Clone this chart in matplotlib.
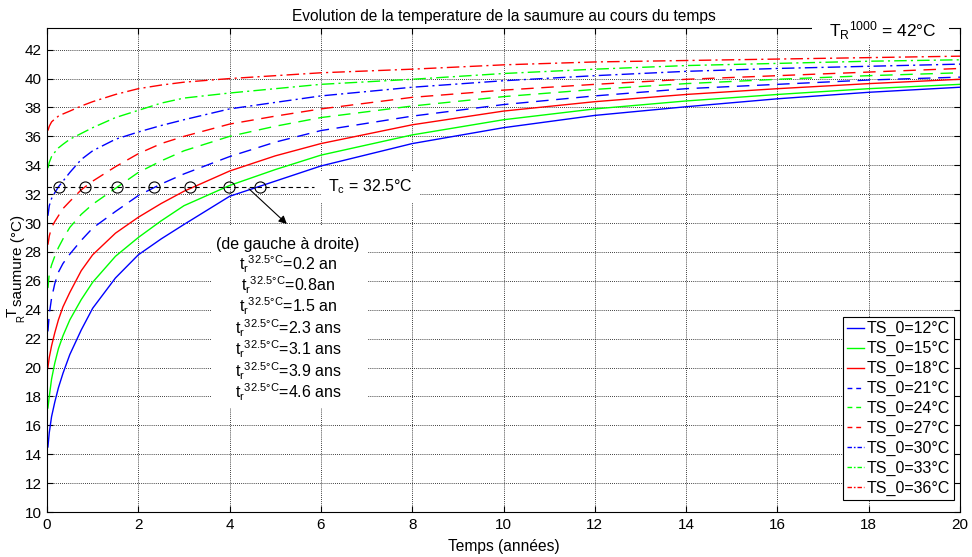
import matplotlib as mpl
import matplotlib.pyplot as plt
from matplotlib.lines import Line2D
from matplotlib.patches import Rectangle

mpl.use("Agg")

plt.rcParams["font.family"] = ["Liberation Sans", "DejaVu Sans"]
plt.rcParams["mathtext.fontset"] = "custom"
plt.rcParams["mathtext.rm"] = "Liberation Sans"
plt.rcParams["mathtext.it"] = "Liberation Sans"

# time axis (years), shared by all curves
years = [0.02, 0.05, 0.1, 0.17, 0.25, 0.35, 0.5, 0.75, 1, 1.5, 2, 2.5, 3, 4, 5, 6, 8, 10, 12, 14, 16, 18, 20]

# brine temperature for each initial temperature TS_0
ts12 = [14.5, 15.5, 16.6, 17.6, 18.6, 19.6, 20.9, 22.6, 24.1, 26.2, 27.8, 28.9, 29.9, 31.85, 32.9, 33.95, 35.5, 36.6, 37.45, 38.05, 38.6, 39.05, 39.4]
ts15 = [17.2, 18.0, 19.2, 20.3, 21.3, 22.2, 23.3, 24.7, 25.9, 27.7, 29.0, 30.15, 31.2, 32.6, 33.7, 34.7, 36.1, 37.15, 37.9, 38.45, 38.9, 39.3, 39.6]
ts18 = [20.0, 20.7, 21.5, 22.4, 23.3, 24.2, 25.2, 26.7, 27.8, 29.3, 30.4, 31.35, 32.2, 33.6, 34.65, 35.5, 36.8, 37.75, 38.4, 38.9, 39.3, 39.65, 39.95]
ts21 = [22.5, 23.7, 24.8, 25.8, 26.6, 27.2, 27.85, 28.8, 29.65, 30.8, 31.9, 32.7, 33.4, 34.6, 35.6, 36.4, 37.4, 38.2, 38.8, 39.3, 39.6, 39.9, 40.1]
ts24 = [25.5, 26.5, 27.1, 27.7, 28.3, 28.9, 29.7, 30.6, 31.3, 32.4, 33.5, 34.3, 35.0, 36.0, 36.7, 37.3, 38.1, 38.75, 39.25, 39.65, 39.95, 40.2, 40.4]
ts27 = [28.5, 29.1, 29.7, 30.1, 30.5, 31.0, 31.5, 32.3, 32.9, 33.9, 34.8, 35.5, 36.0, 36.85, 37.4, 37.9, 38.7, 39.2, 39.6, 39.95, 40.2, 40.45, 40.7]
ts30 = [30.5, 31.2, 31.7, 32.1, 32.5, 32.9, 33.5, 34.4, 35.0, 35.8, 36.3, 36.75, 37.15, 37.9, 38.35, 38.8, 39.4, 39.85, 40.2, 40.5, 40.7, 40.85, 41.0]
ts33 = [33.8, 34.2, 34.6, 34.9, 35.2, 35.45, 35.8, 36.2, 36.6, 37.3, 37.8, 38.3, 38.65, 39.0, 39.3, 39.6, 39.95, 40.35, 40.65, 40.9, 41.05, 41.2, 41.3]
ts36 = [36.4, 36.7, 37.0, 37.2, 37.4, 37.55, 37.75, 38.1, 38.4, 38.9, 39.3, 39.55, 39.75, 40.0, 40.2, 40.4, 40.65, 40.95, 41.15, 41.25, 41.35, 41.45, 41.55]

series = [ts12, ts15, ts18, ts21, ts24, ts27, ts30, ts33, ts36]
labels = ["TS_0=12°C", "TS_0=15°C", "TS_0=18°C", "TS_0=21°C", "TS_0=24°C",
          "TS_0=27°C", "TS_0=30°C", "TS_0=33°C", "TS_0=36°C"]

# critical temperature and crossing times (left to right)
t_crit = 32.5
cross_years = [0.26, 0.83, 1.54, 2.35, 3.14, 3.99, 4.67]
cross_labels = ["0.2 an", "0.8an", "1.5 an", "2.3 ans", "3.1 ans", "3.9 ans", "4.6 ans"]

colors = ["#0000FF", "#00FF00", "#FF0000"]
styles = ["-", (0, (9, 5.5)), (0, (9, 3, 1.5, 3))]
legend_styles = ["-", (0, (3.5, 2.8)), (0, (3.2, 1.4, 1.2, 1.4))]

fig = plt.figure(figsize=(9.72, 5.57), dpi=100)
ax = fig.add_axes([47 / 972, 1 - 512 / 557, 913 / 972, 484 / 557])

handles = []
for i, (vals, lab) in enumerate(zip(series, labels)):
    ax.plot(years, vals, color=colors[i % 3], linestyle=styles[i // 3], linewidth=1.0)
    handles.append(Line2D([], [], color=colors[i % 3], linestyle=legend_styles[i // 3],
                          linewidth=1.0, label=lab))

# Tc line and crossing circles
ax.plot([0, 5.85], [t_crit, t_crit], color="k", linestyle=(0, (4, 3)), linewidth=0.8)
ax.plot(cross_years, [t_crit] * len(cross_years), linestyle="none", marker="o",
        markersize=8, markerfacecolor="none", markeredgecolor="k", markeredgewidth=0.8)

ax.annotate("", xy=(5.3, 29.8), xytext=(4.38, t_crit),
            arrowprops=dict(arrowstyle="-|>", color="k", lw=0.8, mutation_scale=12))

ax.text(6.16, t_crit, "T$_\\mathregular{c}$ = 32.5°C", fontsize=11.5, va="center", ha="left",
        zorder=3, bbox=dict(facecolor="white", edgecolor="none", pad=5))

# white panel with the crossing times
ax.add_patch(Rectangle((0.1807, 0.2149), 0.1709, 0.376, transform=ax.transAxes,
                       facecolor="white", edgecolor="none", zorder=2.6))
lines = ["(de gauche à droite)"] + [
    "t$_\\mathregular{r}$$^\\mathregular{32.5°C}$=" + s for s in cross_labels]
for k, line in enumerate(lines):
    y_px = 243 + 21.4 * k + 5.5
    ax.text(0.264, (512 - y_px) / 484, line, transform=ax.transAxes, fontsize=11.5,
            ha="center", va="baseline", zorder=3)

# reservoir temperature label, on a white patch cutting the top frame
ax.add_patch(Rectangle((0.8379, 0.9649), 0.15, 0.064, transform=ax.transAxes,
                       facecolor="white", edgecolor="none", zorder=3, clip_on=False))
ax.text(18.3, 43.3, "T$_\\mathregular{R}$$^\\mathregular{1000}$ = 42°C", fontsize=12.5,
        ha="center", va="center", zorder=4)

ax.set_xlim(0, 20)
ax.set_ylim(10, 43.5)
ax.set_xticks(range(0, 21, 2))
ax.set_yticks(range(10, 43, 2))
ax.tick_params(direction="in", top=True, right=True, length=4, labelsize=11, width=0.8, pad=4)
ax.grid(True, color="k", linestyle=(0, (1, 1.5)), linewidth=0.6)
for sp in ax.spines.values():
    sp.set_linewidth(0.8)

ax.set_title("Evolution de la temperature de la saumure au cours du temps", fontsize=11.2, pad=5)
ax.set_xlabel("Temps (années)", fontsize=11.2, labelpad=5)

# y label, drawn in pieces like the original
fig.text(13 / 972, 1 - 312 / 557, "T", rotation=90, fontsize=11, ha="center", va="center")
fig.text(21 / 972, 1 - 319 / 557, "R", rotation=90, fontsize=7, ha="center", va="center")
fig.text(18 / 972, 1 - 260 / 557, "saumure (°C)", rotation=90, fontsize=11, ha="center", va="center")

leg = ax.legend(handles=handles, loc="lower right", bbox_to_anchor=(0.9934, 0.025), fontsize=11.5,
                frameon=True, fancybox=False, edgecolor="k", framealpha=1,
                handlelength=1.05, handletextpad=0.15, labelspacing=0.3, borderpad=0.25,
                borderaxespad=0)
leg.get_frame().set_linewidth(0.8)
leg.set_zorder(5)

fig.savefig("out.png", dpi=100)
